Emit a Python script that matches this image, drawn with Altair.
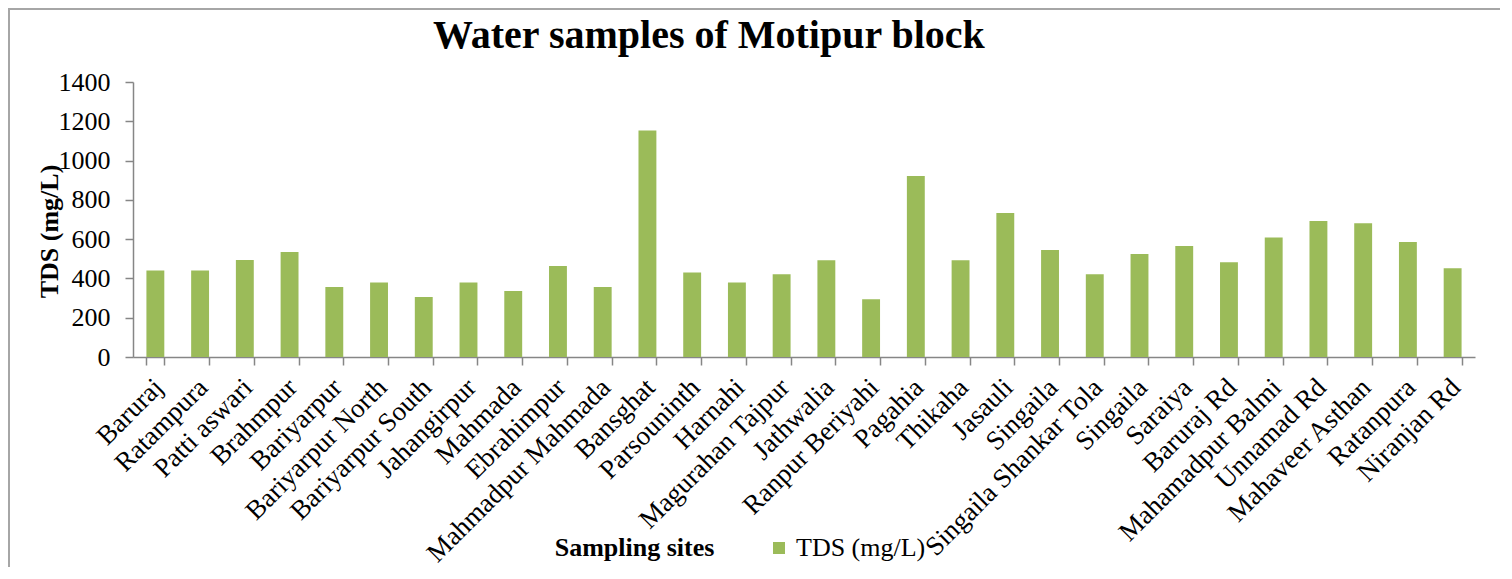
import altair as alt
import pandas as pd

# ---- data ----
sites = [
    "Baruraj", "Ratampura", "Patti aswari", "Brahmpur", "Bariyarpur",
    "Bariyarpur North", "Bariyarpur South", "Jahangirpur", "Mahmada", "Ebrahimpur",
    "Mahmadpur Mahmada", "Bansghat", "Parsouninth", "Harnahi", "Magurahan Tajpur",
    "Jathwalia", "Ranpur Beriyahi", "Pagahia", "Thikaha", "Jasauli",
    "Singaila", "Singaila Shankar Tola", "Singaila", "Saraiya", "Baruraj Rd",
    "Mahamadpur Balmi", "Unnamad Rd", "Mahaveer Asthan", "Ratanpura", "Niranjan Rd",
]
tds = [
    441, 441, 494, 535, 356,
    379, 305, 379, 336, 463,
    356, 1153, 430, 379, 421,
    492, 294, 922, 492, 733,
    545, 421, 524, 565, 482,
    609, 692, 681, 586, 452,
]
series_name = "TDS (mg/L)"
y_ticks = [0, 200, 400, 600, 800, 1000, 1200, 1400]

# unique keys (two sites are both called "Singaila")
keys = [f"{i:02d}|{s}" for i, s in enumerate(sites)]
df = pd.DataFrame({
    "key": keys,
    "site": sites,
    "tds": tds,
    "series": [series_name] * len(sites),
})

FONT = "Liberation Serif"
GREEN = "#9BBB59"
AXIS_GRAY = "#868686"
FRAME_GRAY = "#A6A6A6"

W, H = 1342, 275
PAD = {"left": 125, "top": 74, "right": 25, "bottom": 210}

bars = alt.Chart(df).mark_bar(color=GREEN).encode(
    x=alt.X(
        "key:N",
        sort=keys,
        scale=alt.Scale(paddingInner=0.6, paddingOuter=0.3),
        axis=alt.Axis(
            title="Sampling sites",
            labelExpr="substring(datum.label, 3)",
            labelAngle=-45,
            labelAlign="right",
            labelBaseline="middle",
            labelPadding=18,
            labelOffset=3,
            labelLimit=0,
            labelFontSize=27,
            tickBand="extent",
            tickSize=8,
            titleX=501,
            titleY=198,
            titleAlign="center",
            titleBaseline="alphabetic",
            titleFontSize=26,
            titleFontWeight="bold",
        ),
    ),
    y=alt.Y(
        "tds:Q",
        scale=alt.Scale(domain=[0, 1400], nice=False),
        axis=alt.Axis(
            values=y_ticks,
            format="d",
            title="TDS (mg/L)",
            labelFontSize=26,
            labelPadding=15,
            tickSize=8,
            titleAngle=-90,
            titleX=-84,
            titleY=149,
            titleAlign="center",
            titleBaseline="middle",
            titleFontSize=26,
            titleFontWeight="bold",
        ),
    ),
    color=alt.Color(
        "series:N",
        scale=alt.Scale(range=[GREEN]),
        legend=alt.Legend(
            title=None,
            orient="none",
            legendX=633,
            legendY=453,
            symbolType="square",
            symbolSize=144,
            symbolStrokeWidth=0,
            labelFont=FONT,
            labelFontSize=26,
            labelColor="black",
            labelOffset=4,
            padding=0,
        ),
    ),
)

one = pd.DataFrame({"a": [0]})
frame_left = alt.Chart(one).mark_rule(color=FRAME_GRAY, strokeWidth=2).encode(
    x=alt.value(-PAD["left"] + 1),
    y=alt.value(-PAD["top"]),
    y2=alt.value(H + PAD["bottom"]),
)
frame_top = alt.Chart(one).mark_rule(color=FRAME_GRAY, strokeWidth=2).encode(
    x=alt.value(-PAD["left"]),
    x2=alt.value(W + PAD["right"]),
    y=alt.value(-PAD["top"] + 1),
)

chart = (
    alt.layer(bars, frame_left, frame_top)
    .properties(
        width=W,
        height=H,
        padding=PAD,
        autosize=alt.AutoSizeParams(type="none"),
        title=alt.TitleParams(
            "Water samples of Motipur block",
            font=FONT,
            fontSize=40,
            fontWeight="bold",
            color="black",
            anchor="start",
            frame="group",
            dx=300,
            baseline="alphabetic",
            offset=0,
            dy=81,
        ),
    )
    .configure_view(stroke=None)
    .configure_axis(
        labelFont=FONT,
        titleFont=FONT,
        labelColor="black",
        titleColor="black",
        domainColor=AXIS_GRAY,
        tickColor=AXIS_GRAY,
        domainWidth=1.5,
        tickWidth=1.5,
        grid=False,
    )
)

chart.save("out.html", embed_options={"renderer": "svg", "actions": False})
